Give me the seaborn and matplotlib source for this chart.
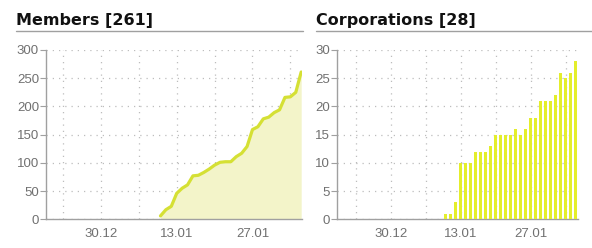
import matplotlib
matplotlib.use("Agg")
import matplotlib.pyplot as plt
import matplotlib.dates as mdates
import seaborn as sns
import pandas as pd

# ---- data ----
dates = pd.date_range("2013-01-10", "2013-02-05", freq="D")
members = [6, 17, 23, 46, 55, 61, 77, 78, 83, 89, 96, 101, 102, 102, 111, 117,
           129, 159, 164, 178, 181, 189, 194, 216, 217, 225, 261]
corporations = [1, 1, 3, 10, 10, 10, 12, 12, 12, 13, 15, 15, 15, 15, 16, 15,
                16, 18, 18, 21, 21, 21, 22, 26, 25, 26, 28]
grid_dates = ["2012-12-23", "2012-12-30", "2013-01-06", "2013-01-13",
              "2013-01-20", "2013-01-27", "2013-02-03"]
grid_labels = ["", "30.12", "", "13.01", "", "27.01", ""]
titles = ["Members [261]", "Corporations [28]"]
members_yticks = [0, 50, 100, 150, 200, 250, 300]
corp_yticks = [0, 5, 10, 15, 20, 25, 30]

sns.set_style("white")
plt.rcParams["font.family"] = ["Liberation Sans", "DejaVu Sans"]

x = mdates.date2num(dates)
gx = mdates.date2num(pd.to_datetime(grid_dates))

fig = plt.figure(figsize=(5.92, 2.48), dpi=100)
W, H = 592.0, 248.0
ax1 = fig.add_axes([46 / W, 28.7 / H, 256 / W, 169.3 / H])
ax2 = fig.add_axes([337 / W, 28.7 / H, 241 / W, 169.3 / H])

line_col = "#d5e034"
fill_col = "#f3f4c9"
bar_col = "#e4ee2c"

sns.lineplot(x=x, y=members, ax=ax1, color=line_col, linewidth=2.3, zorder=3)
ax1.fill_between(x, members, 0, color=fill_col, zorder=1, linewidth=0)

df = pd.DataFrame({"x": x, "y": corporations})
sns.barplot(data=df, x="x", y="y", ax=ax2, native_scale=True, width=0.66,
            color=bar_col, linewidth=0, saturation=1, zorder=3)

x0 = mdates.date2num(pd.Timestamp("2012-12-19"))
ax1.set_xlim(x0 + 0.85, x0 + 48.15)
ax2.set_xlim(x0 + 0.26, x0 + 48.46)
ax1.set_ylim(0, 300)
ax2.set_ylim(0, 30)
ax1.set_yticks(members_yticks)
ax2.set_yticks(corp_yticks)

for ax in (ax1, ax2):
    ax.set_xticks(gx)
    ax.set_xticklabels(grid_labels)
    ax.set_xlabel("")
    ax.set_ylabel("")
    ax.grid(True, color="#bdbdbd", linestyle=(0, (1, 4)), linewidth=0.9)
    ax.set_axisbelow(True)
    for s in ("top", "right"):
        ax.spines[s].set_visible(False)
    for s in ("left", "bottom"):
        ax.spines[s].set_color("#a0a0a0")
        ax.spines[s].set_linewidth(1.0)
    ax.tick_params(axis="y", length=4, width=0.8, color="#a0a0a0",
                   labelsize=9.5, labelcolor="#707070", pad=1, left=True)
    ax.tick_params(axis="x", length=0, labelsize=9.5, labelcolor="#707070",
                   pad=6, bottom=True)
    ax.set_facecolor("white")

# titles with underline
for tx, x_start, x_end in ((titles[0], 16, 303), (titles[1], 316, 592)):
    fig.text(x_start / W, 1 - 25 / H, tx, fontsize=11.5, fontweight="bold",
             family="DejaVu Sans", color="#111111", va="baseline", ha="left")
    fig.add_artist(plt.Line2D([x_start / W, x_end / W], [1 - 31 / H, 1 - 31 / H],
                              color="#a0a0a0", linewidth=1.0))

fig.savefig("out.png", dpi=100, facecolor="white")
